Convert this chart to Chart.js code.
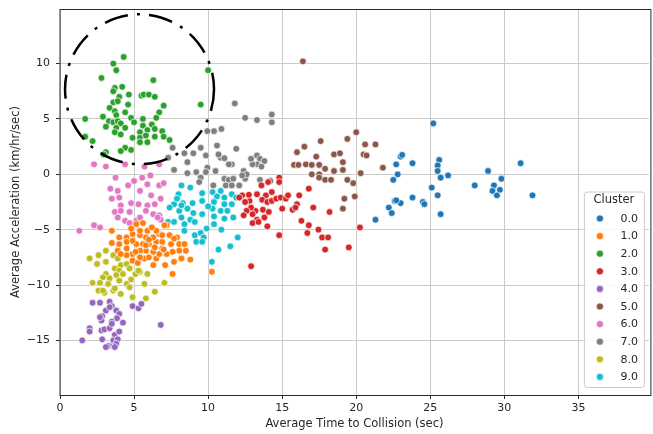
<!DOCTYPE html>
<html>
<head>
<meta charset="utf-8">
<script src="https://cdn.jsdelivr.net/npm/chart.js@4/dist/chart.umd.min.js"></script>
<style>
  html, body { margin: 0; padding: 0; background: #fff; }
  #chart { display: block; }
</style>
</head>
<body>
<canvas id="chart" width="653" height="434"></canvas>
<script>
// Cluster labels and their tab10 colours
const clusterLabels = ['0.0', '1.0', '2.0', '3.0', '4.0', '5.0', '6.0', '7.0', '8.0', '9.0'];
const clusterColors = ['#1f77b4', '#ff7f0e', '#2ca02c', '#d62728', '#9467bd',
                       '#8c564b', '#e377c2', '#7f7f7f', '#bcbd22', '#17becf'];

// [average time to collision (sec), average acceleration (km/hr/sec)] per cluster
const cluster0 = [[25.2,4.6],[23.0,1.6],[23.1,1.75],[22.7,0.9],[23.8,1.0],[25.6,1.3],[25.5,0.8],[25.5,0.3],
  [25.7,-0.3],[26.2,-0.1],[22.8,0.0],[22.5,-0.5],[25.1,-1.2],[25.5,-1.9],[25.7,-3.6],[23.8,-2.1],[24.5,-2.5],
  [24.6,-2.7],[23.0,-2.6],[22.6,-2.4],[22.7,-2.35],[22.2,-3.0],[22.4,-3.5],[21.3,-4.1],[28.9,0.3],[31.1,1.0],
  [28.0,-1.0],[29.3,-1.0],[29.8,-0.4],[29.2,-1.5],[29.7,-1.4],[29.5,-1.9],[31.9,-1.9]];
const cluster1 = [[5.6,-4.4],[5.15,-4.5],[3.5,-5.1],[4.0,-5.7],[3.5,-6.2],[3.9,-6.9],[4.5,-6.7],[4.9,-7.2],
  [4.9,-7.8],[5.25,-8.0],[5.7,-7.6],[6.3,-8.2],[6.5,-7.6],[7.1,-8.2],[7.7,-7.9],[8.2,-7.6],[8.8,-7.7],[7.6,-9.0],
  [10.25,-8.8],[7.2,-4.6],[6.7,-5.4],[7.4,-5.5],[7.9,-5.7],[8.05,-6.3],[8.05,-6.9],[7.6,-7.0],[7.2,-7.2],
  [6.7,-7.2],[6.3,-7.0],[5.8,-6.9],[5.4,-6.9],[5.15,-6.3],[5.6,-6.3],[6.0,-6.3],[6.5,-6.1],[6.9,-6.1],[7.5,-6.3],
  [6.9,-5.5],[6.3,-5.7],[5.8,-5.7],[5.4,-5.5],[4.9,-5.4],[4.5,-5.7],[4.5,-6.1],[4.0,-6.3],[4.9,-6.0],[5.9,-5.1],
  [5.4,-5.1],[4.8,-4.9],[6.5,-5.1],[6.0,-7.5],[5.4,-7.5],[4.5,-7.3],[6.9,-6.7],[6.4,-6.6],[5.8,-6.4],[4.1,-7.2],
  [8.5,-6.9],[8.4,-6.3],[7.05,-4.6],[7.7,-5.8],[6.2,-4.8],[7.0,-6.8],[5.1,-7.0],[6.0,-5.9]];
const cluster2 = [[4.3,10.6],[3.6,10.0],[3.8,9.4],[2.8,8.7],[6.3,8.5],[10.0,9.4],[3.7,7.8],[3.6,7.5],[4.2,7.9],
  [4.0,7.0],[4.65,7.2],[5.5,7.1],[5.65,7.2],[6.0,7.2],[6.4,7.0],[9.5,6.3],[7.0,6.2],[3.6,6.5],[3.35,6.0],[3.9,6.6],
  [4.6,6.3],[3.7,5.7],[6.7,5.6],[1.7,5.0],[2.9,5.2],[3.8,5.35],[4.4,5.6],[4.8,5.1],[5.6,5.0],[6.5,5.1],[3.3,4.8],
  [3.6,4.7],[3.9,4.8],[4.1,4.6],[5.0,4.7],[3.1,4.3],[3.8,4.2],[4.4,4.2],[5.6,4.4],[6.2,4.5],[3.7,3.8],[4.1,3.6],
  [5.4,3.8],[5.9,4.0],[6.4,4.1],[6.9,3.9],[4.9,3.3],[5.4,3.3],[5.8,3.5],[6.4,3.4],[7.0,3.4],[7.4,3.1],[1.7,3.4],
  [2.2,3.0],[4.4,2.4],[4.8,2.2],[4.1,2.1],[3.1,2.0],[2.95,1.8],[5.9,2.9],[5.4,2.9]];
const cluster3 = [[14.8,-0.3],[14.8,-0.7],[14.05,-0.7],[13.6,-1.0],[16.8,-1.3],[13.3,-1.8],[13.9,-1.9],[14.3,-1.6],
  [12.8,-2.4],[13.65,-2.3],[14.0,-2.5],[14.3,-2.4],[14.6,-2.2],[14.9,-2.1],[15.25,-2.2],[15.4,-1.9],[16.15,-1.9],
  [16.0,-2.7],[15.7,-3.2],[15.9,-3.0],[15.0,-3.1],[17.1,-3.0],[18.2,-3.4],[13.2,-3.3],[13.7,-3.2],[14.1,-3.4],
  [13.0,-3.6],[13.3,-4.1],[13.8,-3.9],[14.0,-4.7],[13.0,-4.4],[16.3,-4.2],[16.8,-4.6],[16.7,-5.3],[17.45,-5.0],
  [17.7,-5.7],[18.1,-5.7],[17.9,-6.8],[19.5,-6.6],[20.25,-4.8],[14.8,-5.5],[12.9,-8.3],[12.3,-1.9],[12.75,-1.85],
  [12.5,-2.5],[12.9,-3.0],[12.6,-3.3],[13.4,-4.3],[12.1,-2.1],[12.4,-3.7]];
const cluster4 = [[2.2,-11.6],[2.7,-11.6],[3.35,-11.5],[3.5,-11.9],[3.1,-12.3],[2.85,-12.8],[2.8,-13.2],[3.8,-12.3],
  [4.0,-12.6],[3.85,-13.0],[3.5,-13.3],[4.25,-13.4],[4.9,-11.9],[5.3,-12.1],[5.5,-11.7],[6.8,-13.6],[2.0,-13.9],
  [2.0,-14.2],[2.8,-14.1],[3.0,-14.0],[3.35,-13.9],[3.7,-14.5],[4.0,-14.2],[1.5,-15.0],[2.85,-14.9],[3.6,-15.0],
  [3.9,-14.9],[3.25,-15.5],[3.6,-15.5],[3.8,-15.3],[3.1,-15.6],[3.7,-15.6],[3.5,-13.5],[2.7,-12.9],[3.35,-12.0]];
const cluster5 = [[16.4,10.2],[20.0,3.8],[19.4,3.2],[20.6,2.7],[21.3,2.7],[17.6,3.0],[16.5,2.5],[16.0,2.0],
  [17.3,1.6],[18.5,1.8],[18.9,1.9],[20.5,1.8],[20.7,1.7],[19.1,1.1],[15.8,0.85],[16.1,0.85],[16.6,0.9],[17.0,0.85],
  [17.5,0.85],[19.1,0.4],[18.5,0.3],[17.9,0.5],[20.3,0.1],[21.8,0.6],[17.0,0.0],[17.5,0.0],[17.5,-0.3],[17.9,-0.5],
  [18.3,-0.5],[19.4,-0.5],[19.8,-0.8],[19.2,-2.2],[19.9,-2.0],[19.1,-3.1]];
const cluster6 = [[2.3,0.9],[3.1,0.7],[4.4,0.9],[5.7,0.7],[6.7,0.9],[6.1,-0.1],[3.75,-0.3],[4.6,-1.0],[5.0,-0.6],
  [5.55,-0.3],[5.9,-0.9],[3.4,-1.3],[5.4,-1.5],[6.7,-1.0],[7.0,-0.8],[3.5,-2.2],[4.0,-2.1],[4.8,-2.6],[5.3,-2.7],
  [5.9,-2.8],[6.4,-2.7],[6.8,-2.2],[6.15,-1.9],[4.1,-2.8],[3.7,-3.4],[4.1,-3.3],[4.7,-3.4],[5.8,-3.3],[6.3,-3.6],
  [6.7,-3.7],[3.9,-3.9],[4.4,-4.2],[4.7,-4.4],[5.15,-4.2],[5.4,-3.9],[2.3,-4.6],[2.7,-4.8],[1.3,-5.1],[6.8,-4.1],
  [3.9,-1.5],[6.6,-3.9]];
const cluster7 = [[11.8,6.4],[12.5,5.1],[13.3,4.9],[14.3,4.7],[14.3,5.4],[9.95,3.9],[10.4,3.9],[10.9,4.1],[10.6,2.6],
  [11.9,2.3],[9.5,2.4],[9.0,1.9],[8.4,1.9],[7.6,2.4],[9.85,1.7],[10.85,1.5],[11.1,1.45],[7.3,1.5],[8.6,1.1],
  [11.6,0.9],[9.95,0.6],[12.4,0.3],[13.3,1.7],[13.5,1.4],[13.8,1.2],[13.3,0.9],[13.6,0.7],[13.0,0.9],[7.7,0.4],
  [8.6,0.1],[9.2,0.2],[9.5,-0.3],[9.85,0.2],[9.4,-0.7],[10.35,-1.0],[11.1,-0.4],[11.4,-0.5],[11.7,-0.4],
  [11.2,-1.0],[11.6,-1.0],[12.1,-1.0],[12.5,-0.4],[13.5,-0.5],[14.2,-0.6],[12.6,0.0],[12.3,-0.1],[10.7,1.8],
  [11.4,0.9],[12.9,1.4],[10.5,0.3]];
const cluster8 = [[2.0,-7.6],[2.6,-7.3],[3.1,-7.9],[2.5,-8.1],[3.6,-7.3],[3.9,-7.6],[4.1,-8.2],[4.5,-8.1],[4.7,-8.5],
  [3.7,-8.5],[4.0,-8.7],[3.1,-9.0],[2.9,-9.3],[3.35,-9.4],[3.8,-9.1],[4.25,-9.0],[5.4,-8.8],[5.9,-9.0],[5.1,-9.0],
  [2.2,-9.8],[2.7,-9.8],[3.25,-9.9],[4.0,-9.6],[4.5,-9.9],[4.8,-9.5],[5.7,-9.9],[6.4,-10.6],[2.6,-10.5],[3.0,-10.7],
  [3.6,-10.5],[4.1,-10.8],[4.7,-10.2],[5.8,-11.2],[7.05,-9.8],[4.9,-11.1],[3.1,-6.9],[2.9,-10.5],[3.7,-10.3],
  [5.3,-8.7]];
const cluster9 = [[8.2,-1.0],[8.8,-1.2],[8.0,-1.8],[9.6,-1.7],[10.3,-1.6],[10.85,-1.5],[10.6,-2.0],[11.1,-2.1],
  [11.6,-1.8],[11.9,-2.1],[7.7,-2.7],[8.3,-2.6],[8.95,-2.6],[9.6,-2.4],[10.4,-2.5],[11.1,-2.7],[11.6,-2.7],[7.4,-3.0],
  [8.05,-3.3],[8.6,-3.1],[10.3,-3.1],[10.85,-3.3],[11.3,-3.3],[8.2,-3.9],[8.8,-4.1],[9.6,-3.6],[10.4,-3.8],[11.1,-4.0],
  [7.3,-4.3],[7.7,-4.3],[8.4,-4.5],[9.1,-4.3],[10.4,-4.5],[11.7,-3.9],[8.4,-5.1],[9.1,-5.5],[9.5,-5.3],[9.7,-5.7],
  [9.2,-6.1],[9.6,-6.1],[10.7,-6.8],[11.5,-6.5],[12.0,-5.7],[10.25,-7.9],[10.9,-5.0],[9.0,-3.5],[10.0,-2.9],
  [7.9,-2.2],[9.9,-4.9],[8.2,-2.8]];

const clusters = [cluster0, cluster1, cluster2, cluster3, cluster4,
                  cluster5, cluster6, cluster7, cluster8, cluster9];

// Axis ranges and tick spacing
const xRange = [0, 39.76];
const yRange = [-19.93, 14.93];
const tickStep = 5;

// Highlighted region: centre and radii in data units
const ringCenter = [5.37, 7.68];
const ringRadius = [5.03, 6.77];

const FONT = '"DejaVu Sans", "Liberation Sans", sans-serif';
const TEXT = '#262626';

const fmtTick = v => (v < 0 ? '\u2212' + Math.abs(v) : String(v));

// Fixed axis box sizes, without extra room for overhanging tick labels
const fixAxis = (size) => (s) => {
  if (s.isHorizontal()) { s.height = size; } else { s.width = size; }
  s.paddingTop = 0; s.paddingBottom = 0; s.paddingLeft = 0; s.paddingRight = 0;
};

// Frame around the plotting area
const framePlugin = {
  id: 'frame',
  afterDatasetsDraw(chart) {
    const { ctx, chartArea: a } = chart;
    ctx.save();
    ctx.strokeStyle = '#2b2b2b';
    ctx.lineWidth = 1;
    ctx.strokeRect(a.left, a.top + 0.5, a.right - a.left + 2, a.bottom - a.top);
    ctx.restore();
  }
};

// Dash-dot ring drawn around the highlighted group
const ringPlugin = {
  id: 'ring',
  afterDatasetsDraw(chart) {
    const { ctx, scales: { x, y } } = chart;
    const cx = x.getPixelForValue(ringCenter[0]);
    const cy = y.getPixelForValue(ringCenter[1]);
    const rx = x.getPixelForValue(ringCenter[0] + ringRadius[0]) - cx;
    const ry = cy - y.getPixelForValue(ringCenter[1] + ringRadius[1]);
    ctx.save();
    ctx.strokeStyle = '#000';
    ctx.lineWidth = 2.5;
    ctx.lineCap = 'butt';
    ctx.setLineDash([24, 9.2, 3, 9.2]);
    ctx.lineDashOffset = 7.2;
    ctx.beginPath();
    ctx.ellipse(cx, cy, rx, ry, 0, 0, -2 * Math.PI, true);
    ctx.stroke();
    ctx.restore();
  }
};

// Legend box inside the lower right corner of the plot
const clusterLegend = {
  id: 'clusterLegend',
  afterDraw(chart) {
    const { ctx, chartArea: a } = chart;
    const boxR = a.right - 5, boxB = a.bottom - 8;
    const boxW = 60, boxH = 195.5;
    const boxL = boxR - boxW, boxT = boxB - boxH;
    ctx.save();
    ctx.beginPath();
    ctx.roundRect(boxL + 0.5, boxT + 0.5, boxW, boxH, 3);
    ctx.fillStyle = 'rgba(255,255,255,0.85)';
    ctx.fill();
    ctx.strokeStyle = '#cccccc';
    ctx.lineWidth = 1;
    ctx.stroke();

    ctx.fillStyle = TEXT;
    ctx.textBaseline = 'middle';
    ctx.textAlign = 'center';
    ctx.font = '11.5px ' + FONT;
    ctx.fillText('Cluster', boxL + boxW / 2, boxT + 9);

    ctx.font = '11px ' + FONT;
    ctx.textAlign = 'left';
    chart.data.datasets.forEach((ds, i) => {
      const yy = boxT + 27 + i * 17.6;
      ctx.beginPath();
      ctx.arc(boxL + 16, yy, 3.6, 0, Math.PI * 2);
      ctx.fillStyle = ds.backgroundColor;
      ctx.fill();
      ctx.strokeStyle = '#fff';
      ctx.lineWidth = 0.7;
      ctx.stroke();
      ctx.fillStyle = TEXT;
      ctx.fillText(ds.label, boxL + 36.5, yy + 0.5);
    });
    ctx.restore();
  }
};

new Chart(document.getElementById('chart'), {
  type: 'scatter',
  data: {
    datasets: clusters.map((pts, i) => ({
      label: clusterLabels[i],
      data: pts.map(([x, y]) => ({ x, y })),
      backgroundColor: clusterColors[i],
      borderColor: '#ffffff',
      borderWidth: 0.7,
      pointRadius: 3.4,
      pointHoverRadius: 3.4
    }))
  },
  options: {
    responsive: false,
    animation: false,
    devicePixelRatio: 1,
    layout: { padding: { top: 9, right: 0, bottom: 0, left: 0 } },
    plugins: { legend: { display: false }, tooltip: { enabled: false } },
    scales: {
      x: {
        type: 'linear',
        min: xRange[0],
        max: xRange[1],
        afterFit: fixAxis(39),
        border: { display: false },
        grid: { color: '#cbcbcb', lineWidth: 1, drawTicks: true, tickLength: 4, tickColor: '#2b2b2b' },
        ticks: {
          stepSize: tickStep, includeBounds: false, padding: 3, color: TEXT, maxRotation: 0,
          font: { family: FONT, size: 11 }, callback: v => fmtTick(v)
        },
        title: {
          display: true, text: 'Average Time to Collision (sec)', color: TEXT,
          font: { family: FONT, size: 11.5 }, padding: { top: 0, bottom: 3 }
        }
      },
      y: {
        type: 'linear',
        min: yRange[0],
        max: yRange[1],
        afterFit: fixAxis(60),
        border: { display: false },
        grid: { color: '#cbcbcb', lineWidth: 1, drawTicks: true, tickLength: 4, tickColor: '#2b2b2b' },
        ticks: {
          stepSize: tickStep, includeBounds: false, padding: 6, color: TEXT,
          font: { family: FONT, size: 11 }, callback: v => fmtTick(v)
        },
        title: {
          display: true, text: 'Average Acceleration (km/hr/sec)', color: TEXT,
          font: { family: FONT, size: 11.5 }, padding: { top: 9, bottom: 0 }
        }
      }
    }
  },
  plugins: [framePlugin, ringPlugin, clusterLegend]
});
</script>
</body>
</html>
